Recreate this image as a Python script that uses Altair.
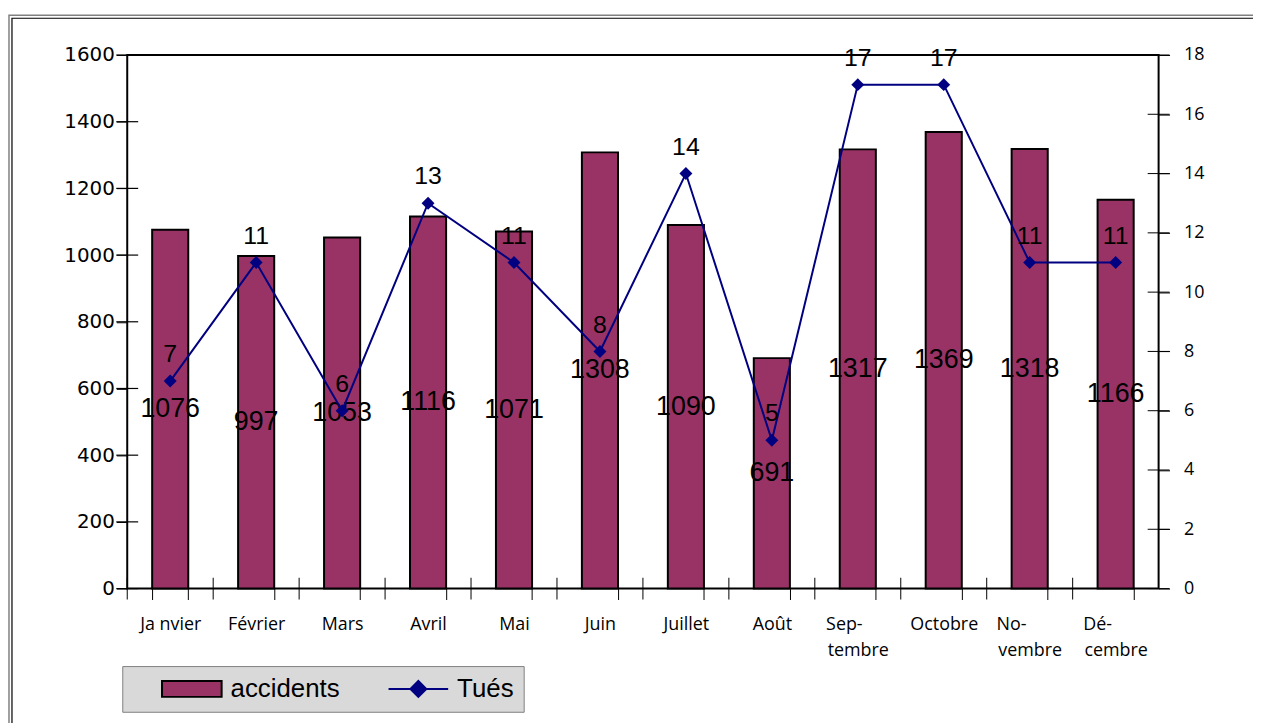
import altair as alt
import pandas as pd

# ---- data ----
NB = "\u00a0"
ZW = "\u200b"
months = ["Ja nvier", "Février", "Mars", "Avril", "Mai", "Juin", "Juillet",
          "Août", "Sep-" + NB * 6 + ZW + "|tembre", "Octobre",
          "No-" + NB * 8 + ZW + "|vembre", "Dé-" + NB * 8 + ZW + "|cembre"]
accidents = [1076, 997, 1053, 1116, 1071, 1308, 1090, 691, 1317, 1369, 1318, 1166]
tues = [7, 11, 6, 13, 11, 8, 14, 5, 17, 17, 11, 11]
acc_ticks = [0, 200, 400, 600, 800, 1000, 1200, 1400, 1600]
tues_ticks = [0, 2, 4, 6, 8, 10, 12, 14, 16, 18]
series = ["accidents", "Tués"]

df = pd.DataFrame({"mois": months, "accidents": accidents, "tues": tues})
leg_df = pd.DataFrame({"serie": series, "mois": [months[0], months[0]], "tues": [-10, -10]})
accticks_df = pd.DataFrame({"accidents": acc_ticks})
tuesticks_df = pd.DataFrame({"tues": tues_ticks})
frame_df = pd.DataFrame({"k": [0]})

BAR = "#993366"
NAVY = "#000080"
W, H = 1038, 537

xscale = alt.Scale(paddingInner=0.58, paddingOuter=0.29)
xaxis = alt.Axis(title=None, labelExpr="split(datum.label, '|')", tickBand="extent",
                 tickSize=11, domain=False, labelAngle=0,
                 labelFont="Open Sans", labelFontSize=18, labelPadding=16,
                 labelLineHeight=26, tickColor="black", tickWidth=1,
                 labelColor="black", grid=False, zindex=1)
xenc = alt.X("mois:N", sort=months, scale=xscale, axis=xaxis)

yaxisL = alt.Axis(title=None, values=acc_ticks, format="d", tickSize=11,
                  domain=False, grid=False, labelFont="DejaVu Sans", labelFontSize=20,
                  labelPadding=2, tickColor="black", tickWidth=1, labelColor="black",
                  zindex=1)
yscaleL = alt.Scale(domain=[0, 1600], nice=False)

yaxisR = alt.Axis(title=None, orient="right", values=tues_ticks, tickSize=11,
                  domain=False, grid=False, labelFont="Open Sans", labelFontSize=18,
                  labelPadding=14, tickColor="black", tickWidth=1, labelColor="black",
                  zindex=1)
yscaleR = alt.Scale(domain=[0, 18], nice=False)

bars = alt.Chart(df).mark_bar(fill=BAR, stroke="black", strokeWidth=2).encode(
    x=xenc, y=alt.Y("accidents:Q", scale=yscaleL, axis=yaxisL))
bar_text = alt.Chart(df).transform_calculate(mid="datum.accidents / 2").mark_text(
    font="Liberation Sans", fontSize=27, color="black", baseline="middle").encode(
    x=xenc, y=alt.Y("mid:Q", scale=yscaleL, axis=yaxisL), text="accidents:Q")
x_stubs = alt.Chart(df).mark_tick(orient="vertical", size=22, thickness=1, color="black",
                                  opacity=1, xOffset=-43.25).encode(
    x=xenc, y=alt.value("height"))
left_group = alt.layer(bars, x_stubs, bar_text)

# inner halves of the left axis ticks (ticks cross the axis lines in the reference)
left_stubs = alt.Chart(accticks_df).mark_rule(color="black", strokeWidth=1.2).encode(
    x=alt.value(-11), x2=alt.value(11),
    y=alt.Y("accidents:Q", scale=alt.Scale(domain=[0, 1600], nice=False), axis=None))

line = alt.Chart(df).mark_line(color=NAVY, strokeWidth=2).encode(
    x=xenc, y=alt.Y("tues:Q", scale=yscaleR, axis=yaxisR))
pts = alt.Chart(df).mark_point(shape="diamond", filled=True, color=NAVY, size=170,
                               opacity=1).encode(
    x=xenc, y=alt.Y("tues:Q", scale=yscaleR, axis=yaxisR))
tue_text = alt.Chart(df).mark_text(font="Liberation Sans", fontSize=25, color="black",
                                   baseline="middle", dy=-27).encode(
    x=xenc, y=alt.Y("tues:Q", scale=yscaleR, axis=yaxisR), text="tues:Q")
right_stubs = alt.Chart(tuesticks_df).mark_rule(color="black", strokeWidth=1).encode(
    x=alt.value(W - 11), x2=alt.value(W + 11),
    y=alt.Y("tues:Q", scale=yscaleR, axis=yaxisR))

rect_path = "M-3.75,-1H3.75V1H-3.75Z"
line_path = "M-3.75,0H3.75M0,-1L1,0L0,1L-1,0Z"
leg_title = "\u2003"
legend_layer = alt.Chart(leg_df).mark_point(filled=True, opacity=1, clip=True,
                                            strokeWidth=2).encode(
    x=xenc,
    y=alt.Y("tues:Q", scale=yscaleR, axis=yaxisR),
    fill=alt.Fill("serie:N", title=leg_title,
                  scale=alt.Scale(domain=series, range=[BAR, NAVY])),
    stroke=alt.Stroke("serie:N", title=leg_title,
                      scale=alt.Scale(domain=series, range=["black", NAVY])),
    shape=alt.Shape("serie:N", title=leg_title,
                    scale=alt.Scale(domain=series, range=[rect_path, line_path])),
)
right_group = alt.layer(right_stubs, line, pts, tue_text, legend_layer)

frame_outer = alt.Chart(frame_df).mark_rect(fill="transparent", stroke="#808080",
                                            strokeWidth=1.5).encode(
    x=alt.value(-119), x2=alt.value(1300), y=alt.value(-40), y2=alt.value(800))
frame_inner = alt.Chart(frame_df).mark_rect(fill="transparent", stroke="black",
                                            strokeWidth=1.2).encode(
    x=alt.value(-116), x2=alt.value(1300), y=alt.value(-37), y2=alt.value(800))

chart = alt.layer(frame_outer, frame_inner, left_group, right_group,
                  left_stubs).resolve_scale(y="independent").properties(
    width=W, height=H,
    padding={"left": 120, "top": 45, "right": 95, "bottom": 133},
    autosize=alt.AutoSizeParams(type="none"),
    background="white",
).configure_view(stroke="black", strokeWidth=2).configure_legend(
    orient="none", legendX=-5, legendY=615, direction="horizontal",
    fillColor="#d9d9d9", strokeColor="#808080", padding=10,
    labelFont="Liberation Sans", labelFontSize=26, labelColor="black",
    symbolSize=256, symbolStrokeWidth=2, symbolOffset=45, labelOffset=26,
    columnPadding=21, titleOrient="left", titleFontSize=26, titlePadding=2,
)

chart.save("out.html", embed_options={"renderer": "svg", "actions": False})
